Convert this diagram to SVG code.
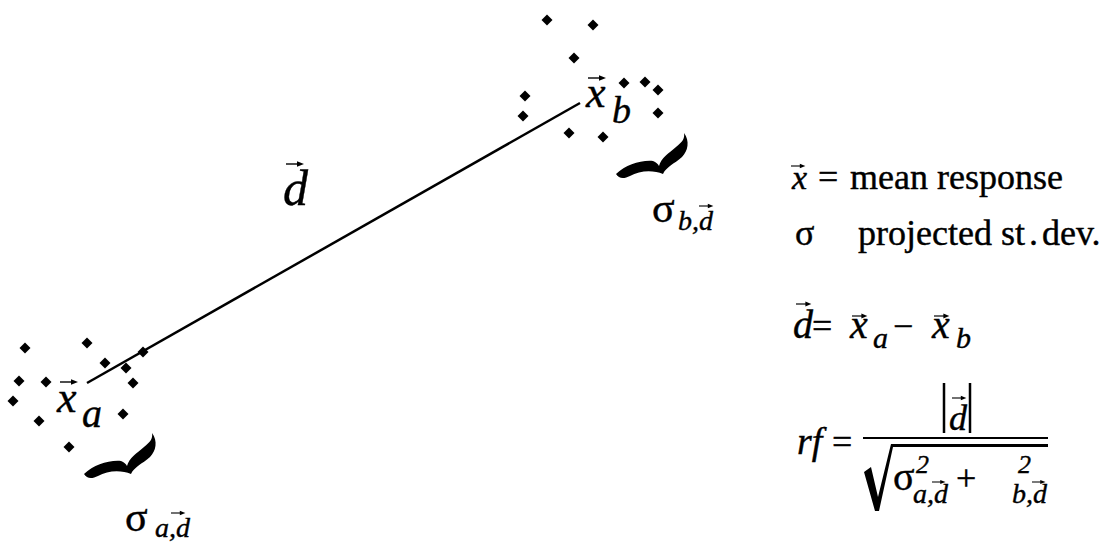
<svg xmlns="http://www.w3.org/2000/svg" xmlns:xlink="http://www.w3.org/1999/xlink" width="1102" height="543" viewBox="0 0 1102 543">
<style>
  .t { font-family: "Liberation Serif", "Times New Roman", serif; fill: #000; stroke: #000; stroke-width: 0.4; }
  .i { font-style: italic; }
  .ln { stroke: #000; fill: none; }
</style>
<defs>
  <polygon id="dot" points="0,-5.5 5.5,0 0,5.5 -5.5,0" fill="#000"/>
  <g id="vec">
    <path d="M0,0H13" stroke="#000" stroke-width="1.4"/>
    <path d="M11,-2.8L18,0L11,2.8Z" fill="#000"/>
  </g>
  <path id="brace" fill="#000" d="M84,474 C94,465 108,460 121,461 C124,462 126,464 127,466 C129,458 137,453 144,447 C150,442 153,439 152,433 C158,441 156,451 150,457 C142,464 134,467 131,474 C122,470 108,470 98,476 C92,479 87,479 84,474 Z"/>
</defs>
<rect width="1102" height="543" fill="#fff"/>

<g id="connectors">
  <path class="ln" d="M87,383 L580,103" stroke-width="2.5"/>
</g>

<g id="cluster-a">
  <use xlink:href="#dot" x="25" y="348"/>
  <use xlink:href="#dot" x="87" y="343"/>
  <use xlink:href="#dot" x="19" y="381"/>
  <use xlink:href="#dot" x="46" y="382"/>
  <use xlink:href="#dot" x="13" y="401"/>
  <use xlink:href="#dot" x="39" y="421"/>
  <use xlink:href="#dot" x="69" y="447"/>
  <use xlink:href="#dot" x="105" y="363"/>
  <use xlink:href="#dot" x="126" y="368"/>
  <use xlink:href="#dot" x="143" y="352"/>
  <use xlink:href="#dot" x="133" y="383"/>
  <use xlink:href="#dot" x="123" y="414"/>
  <text class="t i" x="57" y="412" font-size="44">x</text>
  <use xlink:href="#vec" transform="translate(60,382)"/>
  <text class="t i" x="82" y="427" font-size="40">a</text>
  <use xlink:href="#brace"/>
  <text class="t" x="125" y="531" font-size="42">σ</text>
  <text class="t i" x="155" y="537" font-size="28">a,d</text>
  <use xlink:href="#vec" transform="translate(171,513) scale(0.8)"/>
</g>

<g id="cluster-b">
  <use xlink:href="#dot" x="547" y="20"/>
  <use xlink:href="#dot" x="593" y="25"/>
  <use xlink:href="#dot" x="574" y="58"/>
  <use xlink:href="#dot" x="525" y="96"/>
  <use xlink:href="#dot" x="523" y="116"/>
  <use xlink:href="#dot" x="624" y="83"/>
  <use xlink:href="#dot" x="645" y="82"/>
  <use xlink:href="#dot" x="658" y="90"/>
  <use xlink:href="#dot" x="658" y="113"/>
  <use xlink:href="#dot" x="569" y="133"/>
  <use xlink:href="#dot" x="603" y="137"/>
  <text class="t i" x="586" y="107" font-size="44">x</text>
  <use xlink:href="#vec" transform="translate(588,78)"/>
  <text class="t i" x="612" y="123" font-size="38">b</text>
  <use xlink:href="#brace" transform="translate(532,-300)"/>
  <text class="t" x="652" y="222" font-size="42">σ</text>
  <text class="t i" x="678" y="230" font-size="28">b,d</text>
  <use xlink:href="#vec" transform="translate(699,206) scale(0.8)"/>
</g>

<g id="label-d">
  <text class="t i" x="283" y="205" font-size="50">d</text>
  <use xlink:href="#vec" transform="translate(286,164)"/>
</g>

<g id="legend">
  <text class="t i" x="792" y="189" font-size="34">x</text>
  <use xlink:href="#vec" transform="translate(791,166) scale(0.8)"/>
  <text class="t" x="818" y="189" font-size="36">=</text>
  <text class="t" x="850" y="189" font-size="36">mean response</text>

  <text class="t" x="795" y="245" font-size="36">σ</text>
  <text class="t" x="858" y="245" font-size="36">projected st<tspan dx="4">.</tspan><tspan dx="4">dev.</tspan></text>

  <text class="t i" x="793" y="338" font-size="40">d</text>
  <use xlink:href="#vec" transform="translate(796,304) scale(0.85)"/>
  <text class="t" x="812" y="338" font-size="36">=</text>
  <text class="t i" x="850" y="338" font-size="40">x</text>
  <use xlink:href="#vec" transform="translate(852,316) scale(0.85)"/>
  <text class="t i" x="873" y="348" font-size="30">a</text>
  <text class="t" x="893" y="338" font-size="36">−</text>
  <text class="t i" x="932" y="338" font-size="40">x</text>
  <use xlink:href="#vec" transform="translate(934,316) scale(0.85)"/>
  <text class="t i" x="956" y="348" font-size="30">b</text>

  <text class="t i" x="797" y="454" font-size="38">rf</text>
  <text class="t" x="832" y="454" font-size="36">=</text>
  <path class="ln" d="M944,383V433M970,383V433" stroke-width="2.5"/>
  <text class="t i" x="949" y="430" font-size="36">d</text>
  <use xlink:href="#vec" transform="translate(952,398) scale(0.8)"/>
  <path class="ln" d="M863,438H1048" stroke-width="2"/>
  <path fill="#000" d="M864,472 L871,467 L878,497 L891,444 L1048,444 L1048,447 L893,447 L879,511 L875,511 Z"/>
  <text class="t" x="893" y="490" font-size="40">σ</text>
  <text class="t i" x="916" y="473" font-size="26">2</text>
  <text class="t i" x="913" y="503" font-size="28">a,d</text>
  <use xlink:href="#vec" transform="translate(932,482) scale(0.75)"/>
  <text class="t" x="956" y="490" font-size="36">+</text>
  <text class="t i" x="1018" y="473" font-size="26">2</text>
  <text class="t i" x="1012" y="503" font-size="28">b,d</text>
  <use xlink:href="#vec" transform="translate(1032,482) scale(0.75)"/>
</g>
</svg>
